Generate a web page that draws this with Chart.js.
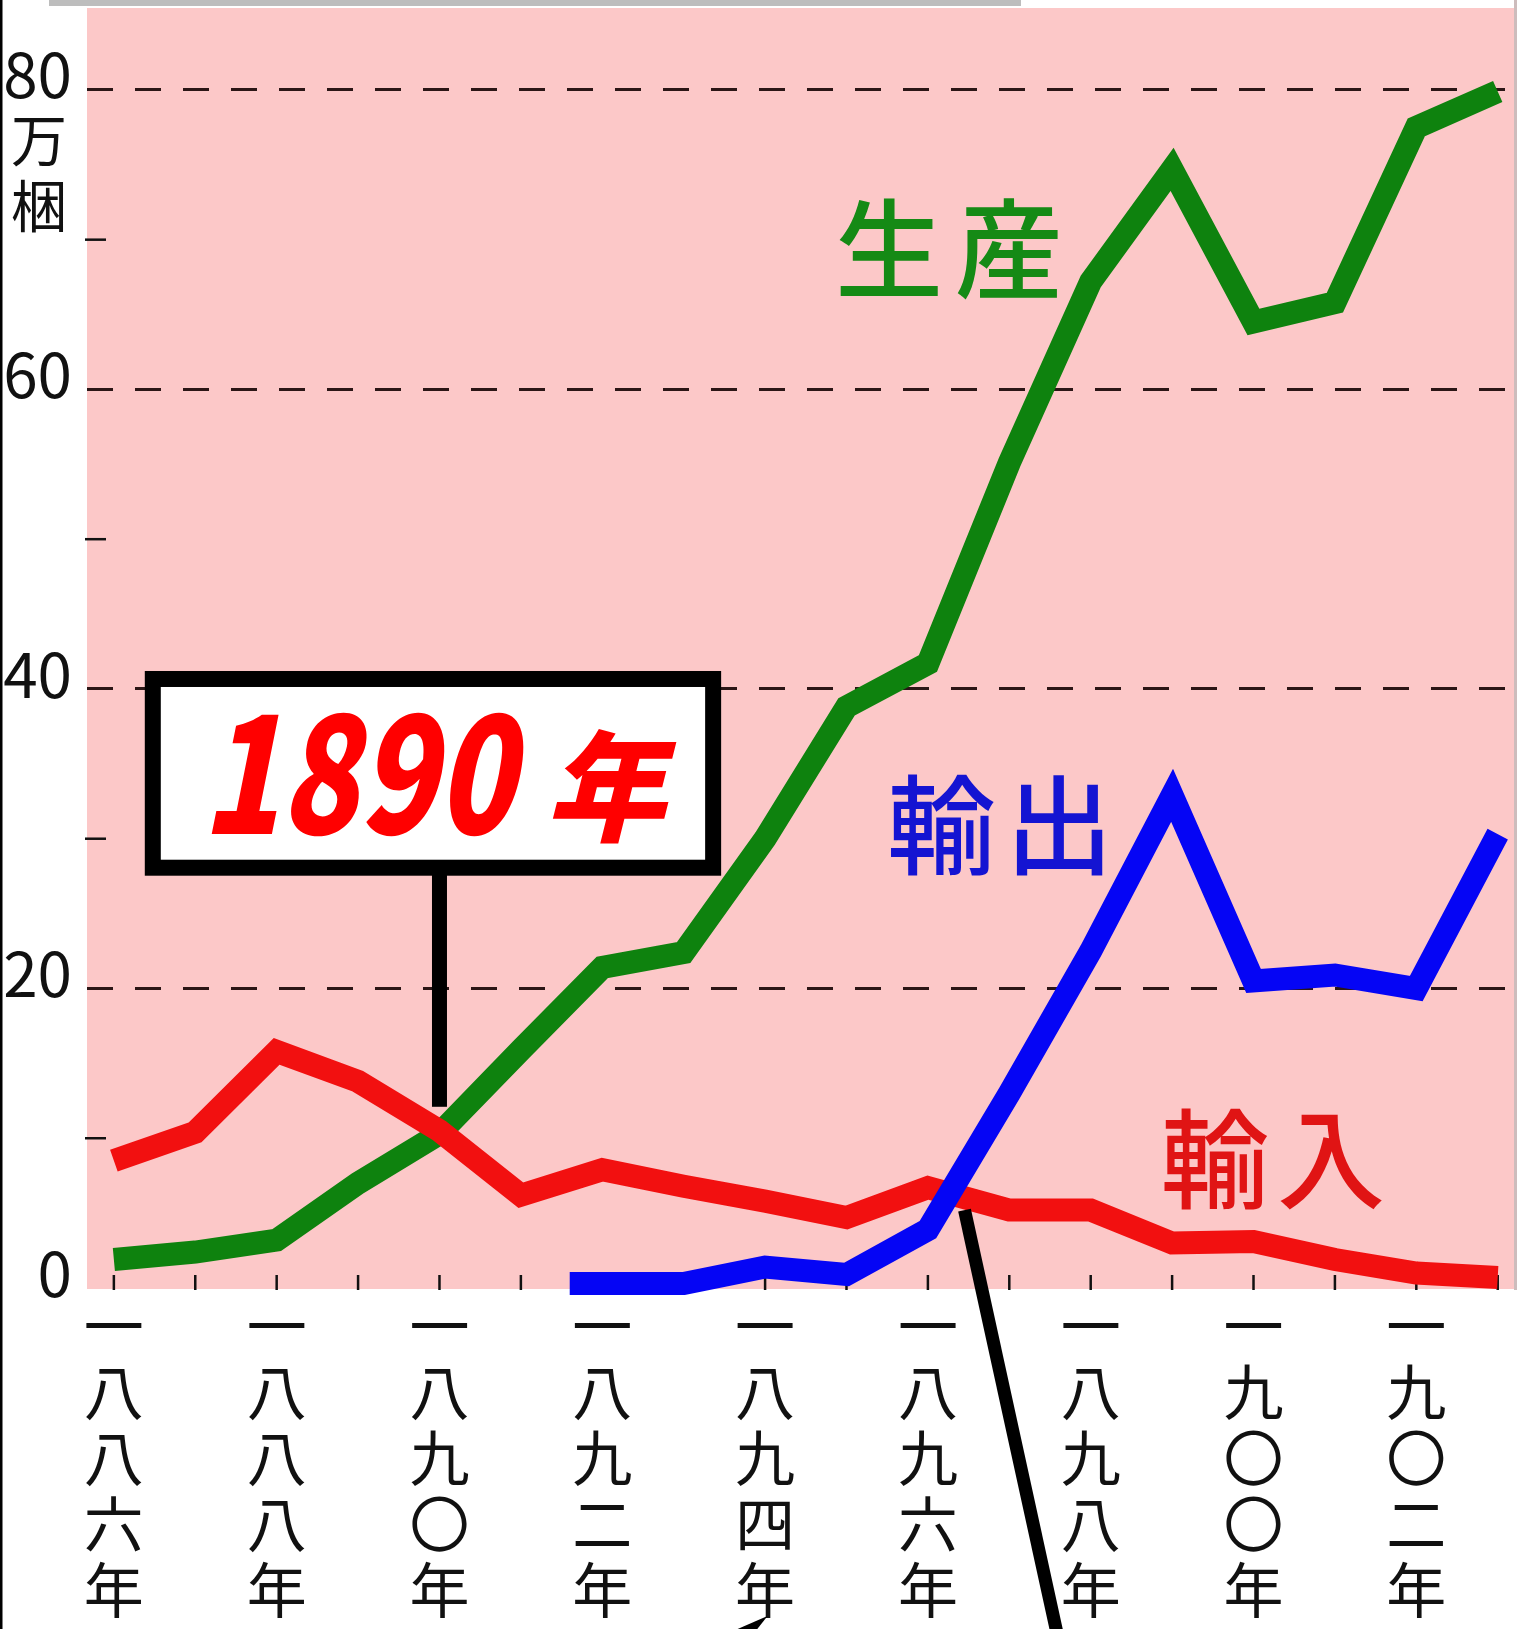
<!DOCTYPE html>
<html lang="ja">
<head>
<meta charset="utf-8">
<title>生産・輸入・輸出</title>
<script src="https://cdn.jsdelivr.net/npm/chart.js@4.4.1/dist/chart.umd.min.js"></script>
<style>
  html, body { margin: 0; padding: 0; background: #fff; overflow: hidden; }
  canvas { display: block; }
</style>
</head>
<body>
<canvas id="chart" width="1527" height="1629"></canvas>
<script>
// data (万梱)
const years = [1886, 1887, 1888, 1889, 1890, 1891, 1892, 1893, 1894, 1895, 1896, 1897, 1898, 1899, 1900, 1901, 1902, 1903];
const production = [1.9, 2.4, 3.2, 7.0, 10.3, 15.9, 21.4, 22.4, 30.0, 38.8, 41.7, 55.1, 67.2, 74.7, 64.5, 65.8, 77.5, 79.9];
const imports = [8.5, 10.4, 15.8, 13.8, 10.5, 6.2, 7.9, 6.8, 5.8, 4.7, 6.7, 5.2, 5.2, 3.0, 3.1, 1.9, 1.0, 0.7];
const exportYears = [1891.6, 1892, 1893, 1894, 1895, 1896, 1897, 1898, 1899, 1900, 1901, 1902, 1903];
const exportValues = [0.3, 0.3, 0.3, 1.4, 0.9, 3.9, 13.0, 22.5, 32.9, 20.5, 20.9, 20.0, 30.3];

const xTickYears = [1886, 1888, 1890, 1892, 1894, 1896, 1898, 1900, 1902];
const xTickLabels = ['一八八六年', '一八八八年', '一八九〇年', '一八九二年', '一八九四年', '一八九六年', '一八九八年', '一九〇〇年', '一九〇二年'];
const yTicks = [0, 10, 20, 30, 40, 50, 60, 70, 80];
const yLabelled = [0, 20, 40, 60, 80];

const GREEN = '#0e820e';
const RED = '#f21010';
const BLUE = '#0505f5';
const PINK = '#fcc8c8';
const JP = '"Noto Sans CJK JP", "Noto Sans", sans-serif';

const toPoints = (xs, ys) => xs.map((x, i) => ({ x: x, y: ys[i] }));

const lineStyle = (color) => ({
  borderColor: color,
  backgroundColor: color,
  borderWidth: 23,
  pointRadius: 0,
  tension: 0,
  borderJoinStyle: 'miter',
  borderCapStyle: 'butt',
  clip: false
});

// background, frame bits, ticks and the annotations
const decor = {
  id: 'decor',
  beforeDraw(chart) {
    const { ctx, chartArea: a } = chart;
    ctx.save();
    ctx.fillStyle = '#fff';
    ctx.fillRect(0, 0, chart.width, chart.height);
    ctx.fillStyle = PINK;
    ctx.fillRect(a.left, a.top, a.right - a.left, a.bottom - a.top + 1);
    ctx.fillStyle = '#cdbcbc';
    ctx.fillRect(a.right, 0, 3, a.bottom + 2);
    ctx.fillStyle = '#bdbdbd';
    ctx.fillRect(49, 0, 972, 6);
    ctx.fillStyle = '#000';
    ctx.fillRect(0, 0, 2.5, chart.height);
    ctx.restore();
  },
  beforeDatasetsDraw(chart) {
    const { ctx, scales: { x, y }, chartArea: a } = chart;
    ctx.save();
    ctx.strokeStyle = '#111';
    ctx.lineWidth = 2.5;
    // year tick marks, inside the plot
    years.forEach(yr => {
      const px = x.getPixelForValue(yr);
      ctx.beginPath();
      ctx.moveTo(px, a.bottom + 2);
      ctx.lineTo(px, a.bottom - 13);
      ctx.stroke();
    });
    // minor ticks on the value axis
    yTicks.filter(v => v % 20 !== 0).forEach(v => {
      const py = y.getPixelForValue(v);
      ctx.beginPath();
      ctx.moveTo(a.left - 2, py);
      ctx.lineTo(a.left + 19, py);
      ctx.stroke();
    });
    ctx.restore();
  },
  afterDraw(chart) {
    const { ctx, scales: { x, y } } = chart;
    const px = v => x.getPixelForValue(v);
    const py = v => y.getPixelForValue(v);
    ctx.save();

    // unit
    ctx.fillStyle = '#111';
    ctx.font = '56px ' + JP;
    ctx.textAlign = 'center';
    ctx.textBaseline = 'middle';
    ctx.fillText('万', 39, 140);
    ctx.fillText('梱', 39, 206);

    // series names
    ctx.textAlign = 'left';
    ctx.font = '500 108px ' + JP;
    ctx.fillStyle = '#158a15';
    ctx.fillText('生', px(1894.86), py(69.4));
    ctx.fillText('産', px(1896.33), py(69.4));
    ctx.fillStyle = '#1414d2';
    ctx.fillText('輸', px(1895.5), py(30.9));
    ctx.fillText('出', px(1896.95), py(30.9));
    ctx.fillStyle = '#e01414';
    ctx.fillText('輸', px(1898.86), py(8.6));
    ctx.fillText('入', px(1900.29), py(8.6));

    // 1890 callout
    const bx0 = px(1886.38), bx1 = px(1893.46);
    const by0 = py(41.2), by1 = py(27.53);
    ctx.fillStyle = '#000';
    ctx.fillRect(bx0, by0, bx1 - bx0, by1 - by0);
    ctx.fillStyle = '#fff';
    ctx.fillRect(bx0 + 16, by0 + 16, bx1 - bx0 - 32, by1 - by0 - 32);
    ctx.fillStyle = '#000';
    ctx.fillRect(px(1890) - 7.5, by1 - 2, 15, py(12.1) - by1 + 2);

    ctx.fillStyle = '#ff0000';
    ctx.textBaseline = 'alphabetic';
    ctx.save();
    ctx.translate(px(1887.08), py(30.33));
    ctx.scale(0.8, 1);
    ctx.font = 'italic 900 160px ' + JP;
    ctx.fillText('1890', 0, 0);
    ctx.restore();
    ctx.font = 'italic 900 120px ' + JP;
    ctx.fillText('年', px(1891.3), py(30.33) - 2);

    // pointer lines
    ctx.strokeStyle = '#000';
    ctx.lineWidth = 13;
    ctx.lineCap = 'butt';
    ctx.beginPath();
    ctx.moveTo(px(1896.45), py(5.2));
    ctx.lineTo(px(1897.58), py(-22.9));
    ctx.stroke();

    ctx.fillStyle = '#000';
    ctx.beginPath();
    ctx.moveTo(px(1894.03), py(-21.9));
    ctx.lineTo(px(1893.65), py(-22.8));
    ctx.lineTo(px(1893.9), py(-22.8));
    ctx.closePath();
    ctx.fill();

    ctx.restore();
  }
};

new Chart(document.getElementById('chart'), {
  type: 'line',
  data: {
    datasets: [
      Object.assign({ label: '輸出', data: toPoints(exportYears, exportValues) }, lineStyle(BLUE)),
      Object.assign({ label: '輸入', data: toPoints(years, imports) }, lineStyle(RED)),
      Object.assign({ label: '生産', data: toPoints(years, production) }, lineStyle(GREEN))
    ]
  },
  options: {
    responsive: false,
    devicePixelRatio: 1,
    animation: false,
    layout: { padding: { top: 8, right: 13, left: 0, bottom: 0 } },
    plugins: { legend: { display: false }, tooltip: { enabled: false } },
    scales: {
      x: {
        type: 'linear',
        min: 1885.67,
        max: 1903.2,
        afterBuildTicks: s => { s.ticks = xTickYears.map(v => ({ value: v })); },
        afterFit: s => { s.height = 341; s.paddingLeft = 0; s.paddingRight = 0; },
        grid: { display: false },
        border: { display: false },
        ticks: {
          autoSkip: false,
          maxRotation: 0,
          minRotation: 0,
          padding: -3,
          color: '#111',
          font: { family: JP, size: 60, lineHeight: 1.1 },
          callback: v => Array.from(xTickLabels[xTickYears.indexOf(v)] || '')
        }
      },
      y: {
        min: 0,
        max: 85.47,
        afterBuildTicks: s => { s.ticks = yTicks.map(v => ({ value: v })); },
        afterFit: s => { s.width = 87; s.paddingTop = 0; s.paddingBottom = 0; },
        grid: {
          drawTicks: false,
          lineWidth: 3,
          color: c => (c.tick && c.tick.value > 0 && c.tick.value % 20 === 0) ? '#2b1616' : 'rgba(0,0,0,0)'
        },
        border: { display: false, dash: [26, 22] },
        ticks: {
          padding: 15,
          labelOffset: -15,
          color: '#111',
          font: { family: JP, size: 62 },
          callback: v => yLabelled.includes(v) ? String(v) : ''
        }
      }
    }
  },
  plugins: [decor]
});
</script>
</body>
</html>
